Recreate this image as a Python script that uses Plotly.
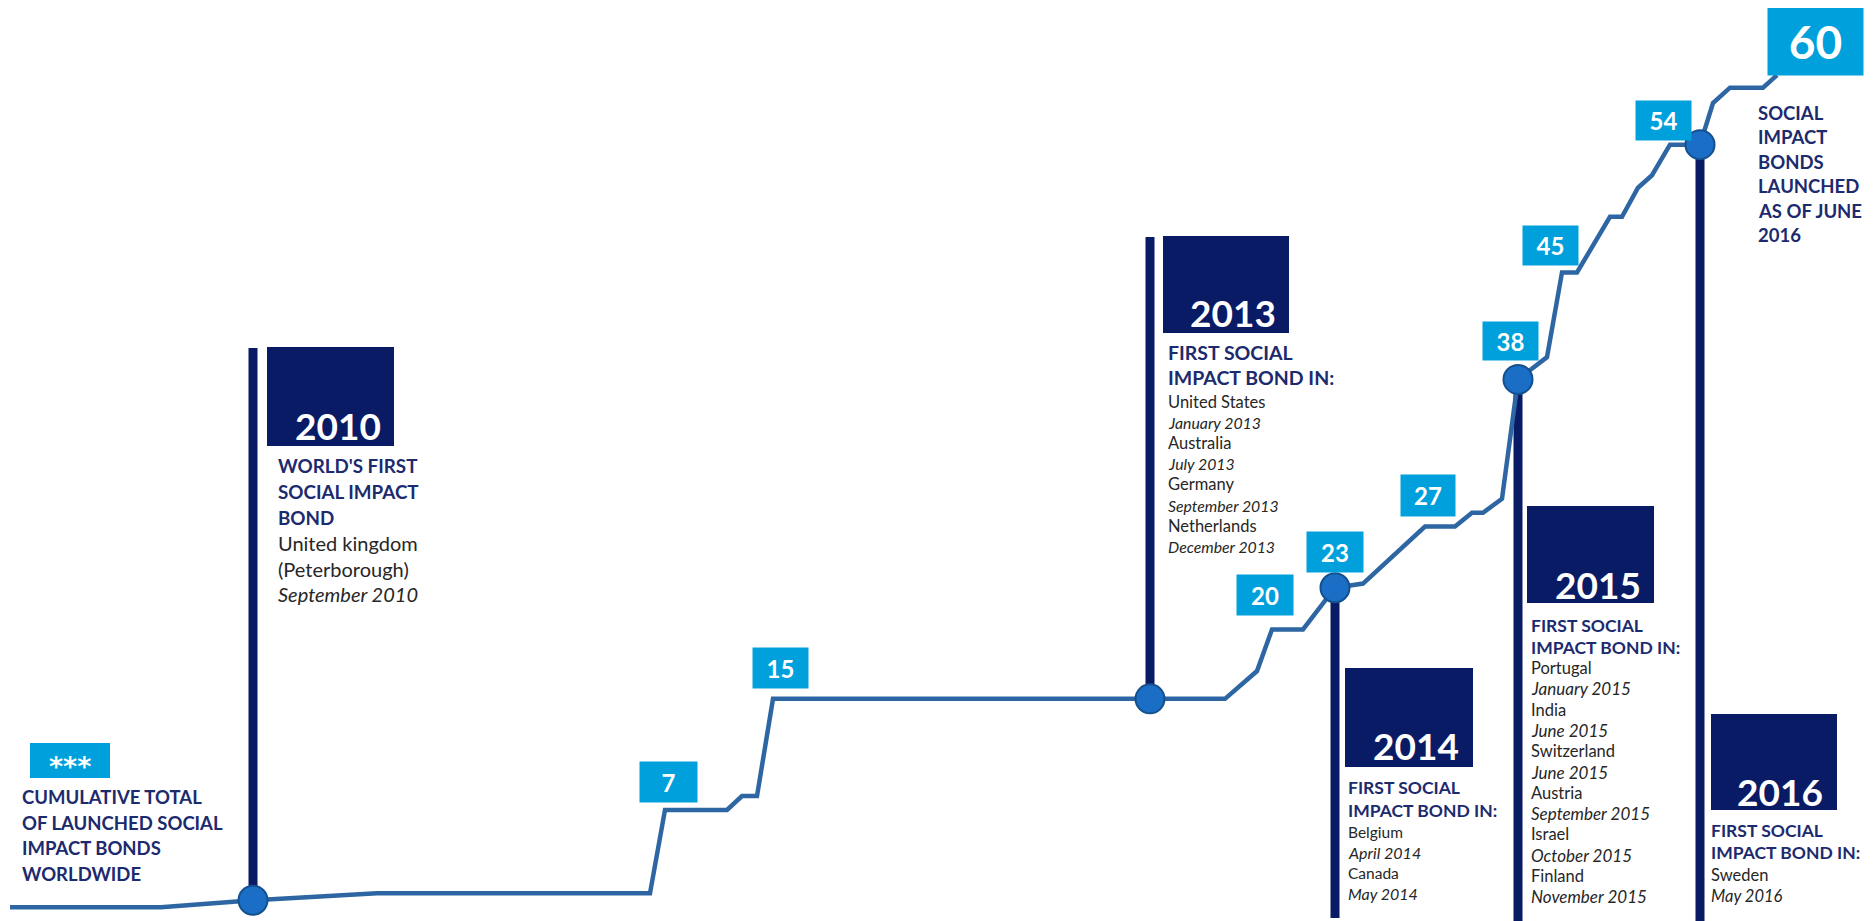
import plotly.graph_objects as go

# ---------------- data ----------------
# position along the (schematic) timeline
timeline_pos = [10, 161, 253, 377, 650, 665, 727, 742, 757, 773, 1150, 1225, 1257, 1272,
                1303, 1335, 1363, 1425, 1455, 1472, 1483, 1502, 1518, 1547, 1562, 1577,
                1610, 1622, 1638, 1652, 1670, 1683, 1700, 1713, 1730, 1763, 1777]
# cumulative number of launched social impact bonds
cumulative = [0, 0, 0.5, 1, 1, 7, 7, 8, 8, 15, 15, 15, 17, 20,
              20, 23, 23.3, 27.4, 27.4, 28.4, 28.4, 29.4, 38, 39.6, 45.7, 45.7,
              49.7, 49.7, 51.8, 52.7, 54.9, 54.9, 54.9, 57.9, 59, 59, 59.9]

# milestone years (circle markers)
milestone_years = ["2010", "2013", "2014", "2015", "2016"]
milestone_pos = [253, 1150, 1335, 1518, 1700]
milestone_count = [0.5, 15, 23, 38, 54.9]

# value callouts
callout_values = [7, 15, 20, 23, 27, 38, 45, 54, 60]
callout_pos = [668, 780, 1265, 1335, 1428, 1510, 1550, 1663, 1815]

# milestone texts
milestone_head = {
    "2010": ["WORLD'S FIRST", "SOCIAL IMPACT", "BOND"],
    "2013": ["FIRST SOCIAL", "IMPACT BOND IN:"],
    "2014": ["FIRST SOCIAL", "IMPACT BOND IN:"],
    "2015": ["FIRST SOCIAL", "IMPACT BOND IN:"],
    "2016": ["FIRST SOCIAL", "IMPACT BOND IN:"],
}
milestone_countries = {
    "2010": [("United kingdom", False), ("(Peterborough)", False), ("September 2010", True)],
    "2013": [("United States", False), ("January 2013", True), ("Australia", False), ("July 2013", True),
             ("Germany", False), ("September 2013", True), ("Netherlands", False), ("December 2013", True)],
    "2014": [("Belgium", False), ("April 2014", True), ("Canada", False), ("May 2014", True)],
    "2015": [("Portugal", False), ("January 2015", True), ("India", False), ("June 2015", True),
             ("Switzerland", False), ("June 2015", True), ("Austria", False), ("September 2015", True),
             ("Israel", False), ("October 2015", True), ("Finland", False), ("November 2015", True)],
    "2016": [("Sweden", False), ("May 2016", True)],
}
left_title = ["CUMULATIVE TOTAL", "OF LAUNCHED SOCIAL", "IMPACT BONDS", "WORLDWIDE"]
right_title = ["SOCIAL", "IMPACT", "BONDS", "LAUNCHED", "AS OF JUNE", "2016"]

# ---------------- styling / layout ----------------
W, H = 1875, 921
OFF = 8  # page body margin in the browser
# pixel <-> count mapping of the reference: py = 907.2 - 13.89 * count
PX0, PXS = 907.2, 13.89
Y1 = (PX0 - OFF) / PXS
Y0 = (PX0 - (OFF + H)) / PXS
NAVY = "#0A1B66"
TEXT_NAVY = "#1C2A6E"
LIGHT = "#00A0DC"
LINE = "#2D66A3"
DOT = "#1A6EC6"
GRAY = "#262626"
FONT = "Lato"


def py2paper(py):
    return 1 - (py - OFF) / H


def px2paper(px):
    return (px - OFF) / W


fig = go.Figure()

# main cumulative line
fig.add_trace(go.Scatter(x=timeline_pos, y=cumulative, mode="lines",
                         line=dict(color=LINE, width=4.5), hoverinfo="skip", showlegend=False))

# milestone circles
fig.add_trace(go.Scatter(x=milestone_pos, y=milestone_count, mode="markers",
                         marker=dict(size=29, color=DOT, line=dict(color="#14508E", width=2)),
                         hoverinfo="skip", showlegend=False))

shapes = []
# vertical bars (to top for 2010/2013, to bottom for the rest)
bar_end_px = {"2010": 348, "2013": 237, "2014": 918, "2015": 935, "2016": 935}
for yr, xp, c in zip(milestone_years, milestone_pos, milestone_count):
    y_c = (c - Y0) / (Y1 - Y0)
    shapes.append(dict(type="line", xref="x", yref="paper", x0=xp, x1=xp,
                       y0=y_c, y1=py2paper(bar_end_px[yr]), layer="below",
                       line=dict(color=NAVY, width=9)))

# navy year boxes (pixel rectangles) and year text centres
year_box = {"2010": (267, 347, 394, 446), "2013": (1163, 236, 1289, 333),
            "2014": (1345, 668, 1473, 767), "2015": (1527, 506, 1654, 603),
            "2016": (1711, 714, 1837, 810)}
year_text_c = {"2010": (338, 422), "2013": (1233, 310), "2014": (1416, 742),
               "2015": (1598, 581), "2016": (1780, 788)}
for yr in milestone_years:
    x0, y0, x1, y1 = year_box[yr]
    shapes.append(dict(type="rect", xref="paper", yref="paper",
                       x0=px2paper(x0), x1=px2paper(x1), y0=py2paper(y1), y1=py2paper(y0),
                       fillcolor=NAVY, line=dict(width=0), layer="below"))
    cx, cy = year_text_c[yr]
    fig.add_annotation(text=yr, xref="paper", yref="paper", x=px2paper(cx), y=py2paper(cy + 3),
                       xanchor="center", yanchor="middle", showarrow=False,
                       font=dict(family=FONT, size=37, color="white", weight="bold"))

# light-blue value callouts
callout_size = [(57, 40), (55, 40), (56, 40), (56, 40), (54, 41), (55, 38), (55, 39), (55, 39), (95, 68)]
callout_shift = [28, 31, 34, 36, 37, 38, 37, 37, 33]
for v, xp, (bw, bh), sh in zip(callout_values, callout_pos, callout_size, callout_shift):
    big = v == callout_values[-1]
    fig.add_annotation(text=str(v), x=xp, y=v, xref="x", yref="y", yshift=sh,
                       xanchor="center", yanchor="middle",
                       showarrow=False, bgcolor=LIGHT, width=bw, height=bh, borderpad=0,
                       align="center", valign="middle",
                       font=dict(family=FONT, size=46 if big else 24, color="white", weight="bold"))

# "***" box
shapes.append(dict(type="rect", xref="paper", yref="paper",
                   x0=px2paper(30), x1=px2paper(110), y0=py2paper(778), y1=py2paper(743),
                   fillcolor=LIGHT, line=dict(width=0), layer="below"))
fig.add_annotation(text="***", xref="paper", yref="paper", x=px2paper(70), y=py2paper(760),
                   xanchor="center", yanchor="middle", yshift=-6, showarrow=False,
                   font=dict(family="DejaVu Sans", size=27, color="white", weight="bold"))


def text_line(text, x, y, size, color, bold=False, italic=False):
    fig.add_annotation(text=text, xref="paper", yref="paper", x=px2paper(x), y=py2paper(y),
                       xanchor="left", yanchor="middle", showarrow=False,
                       font=dict(family=FONT, size=size, color=color,
                                 weight="bold" if bold else "normal",
                                 style="italic" if italic else "normal"))


# left title
for i, t in enumerate(left_title):
    text_line(t, 20, 797 + i * 25.7, 18.5, TEXT_NAVY, bold=True)
# right title
for i, t in enumerate(right_title):
    text_line(t, 1756, 113 + i * 24.4, 18.5, TEXT_NAVY, bold=True)

# milestone text blocks:
# (x, first bold y, bold spacing, first country y, country spacing, bold size, regular size, italic size)
blocks = {
    "2010": (276, 465, 26, 543, 25.7, 18.8, 20, 20),
    "2013": (1166, 353, 25, 402, 20.6, 19.5, 16.5, 15.8),
    "2014": (1346, 787, 23, 832, 20.5, 17.5, 15.5, 16),
    "2015": (1529, 625, 22, 668, 20.8, 17.5, 16.5, 17),
    "2016": (1709, 830, 22, 875, 20.5, 17.5, 16.5, 16.5),
}
for yr in milestone_years:
    x, yb, sb, yc, sc, fb, fr, fi = blocks[yr]
    for i, t in enumerate(milestone_head[yr]):
        text_line(t, x, yb + i * sb, fb, TEXT_NAVY, bold=True)
    for i, (t, it) in enumerate(milestone_countries[yr]):
        text_line(t, x, yc + i * sc, fi if it else fr, GRAY, italic=it)

fig.update_layout(
    width=W, height=H, margin=dict(l=0, r=0, t=0, b=0),
    paper_bgcolor="white", plot_bgcolor="white",
    xaxis=dict(range=[OFF, OFF + W], visible=False, fixedrange=True),
    yaxis=dict(range=[Y0, Y1], visible=False, fixedrange=True),
    shapes=shapes, showlegend=False,
)

fig.write_html("out.html")
